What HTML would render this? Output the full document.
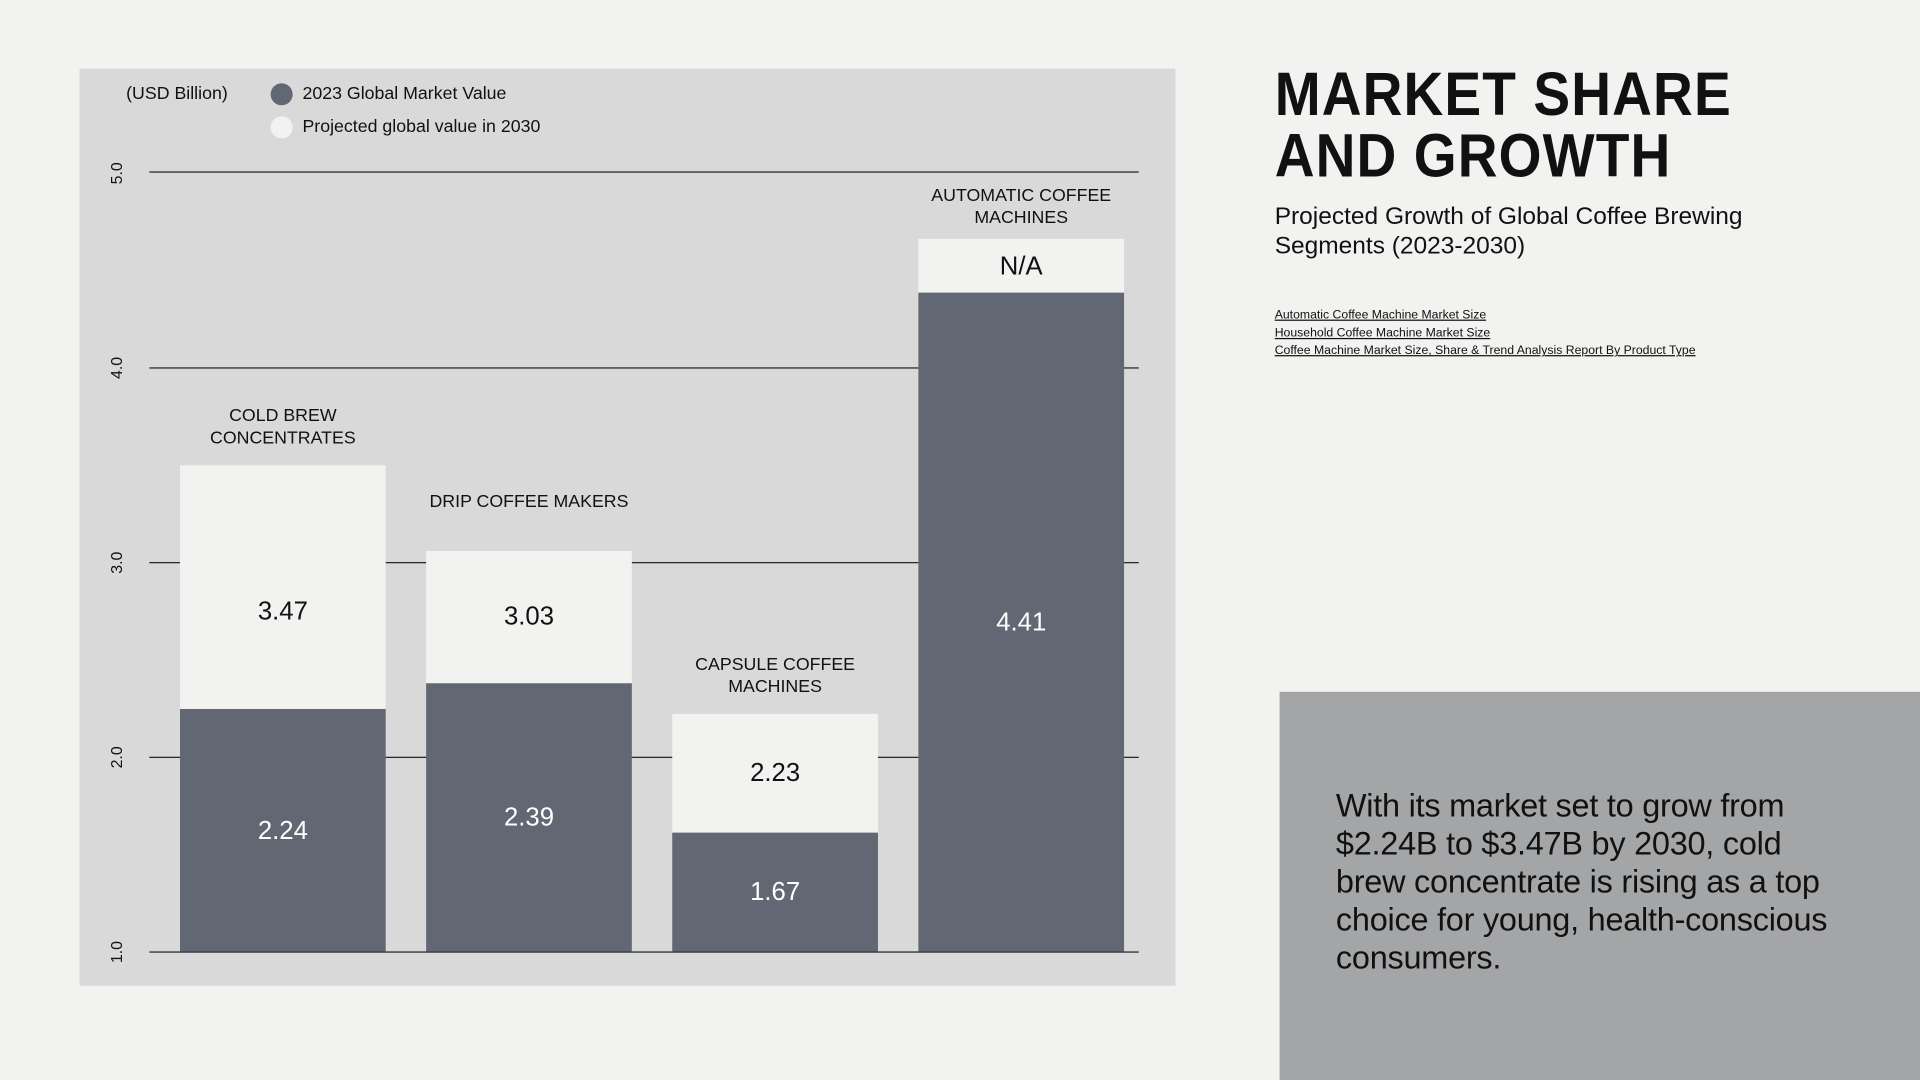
<!DOCTYPE html>
<html><head><meta charset="utf-8"><style>
html,body{margin:0;padding:0;width:1920px;height:1080px;overflow:hidden;background:#f2f2f0;}
#w{position:absolute;left:0;top:0;width:1568px;height:882px;transform:scale(1.2244898);transform-origin:0 0;font-family:"Liberation Sans",sans-serif;color:#111;}
.a{position:absolute;}
.panel{left:65px;top:56px;width:895px;height:749px;background:#d9d9d9;}
.g{left:122px;width:808px;height:1px;background:#222;}
.yl{width:40px;text-align:center;font-size:13px;transform:rotate(-90deg);left:75px;}
.bar{width:168px;}
.d{background:#626873;}
.l{background:#f2f2f0;}
.v{width:168px;text-align:center;font-size:21px;}
.cat{width:200px;text-align:center;font-size:14.5px;line-height:18px;}
</style></head><body><div id="w">
<div class="a panel"></div>
<div class="a" style="left:103px;top:69px;font-size:14.5px">(USD Billion)</div>
<div class="a" style="left:221px;top:68px;width:18px;height:18px;border-radius:50%;background:#626873"></div>
<div class="a" style="left:247px;top:69px;font-size:14.5px">2023 Global Market Value</div>
<div class="a" style="left:221px;top:95px;width:18px;height:18px;border-radius:50%;background:#f2f2f0"></div>
<div class="a" style="left:247px;top:96px;font-size:14.5px">Projected global value in 2030</div>

<div class="a g" style="top:140px"></div>
<div class="a g" style="top:300px"></div>
<div class="a g" style="top:459px"></div>
<div class="a g" style="top:618px"></div>
<div class="a g" style="top:777px"></div>
<div class="a yl" style="top:134px">5.0</div>
<div class="a yl" style="top:293px">4.0</div>
<div class="a yl" style="top:452px">3.0</div>
<div class="a yl" style="top:611px">2.0</div>
<div class="a yl" style="top:770px">1.0</div>

<div class="a bar l" style="left:147px;top:380px;height:199px"></div>
<div class="a bar d" style="left:147px;top:579px;height:198px"></div>
<div class="a bar l" style="left:348px;top:450px;height:108px"></div>
<div class="a bar d" style="left:348px;top:558px;height:219px"></div>
<div class="a bar l" style="left:549px;top:583px;height:97px"></div>
<div class="a bar d" style="left:549px;top:680px;height:97px"></div>
<div class="a bar l" style="left:750px;top:195px;height:44px"></div>
<div class="a bar d" style="left:750px;top:239px;height:538px"></div>

<div class="a v" style="left:147px;top:488px">3.47</div>
<div class="a v" style="left:147px;top:667px;color:#fff">2.24</div>
<div class="a v" style="left:348px;top:492px">3.03</div>
<div class="a v" style="left:348px;top:656px;color:#fff">2.39</div>
<div class="a v" style="left:549px;top:620px">2.23</div>
<div class="a v" style="left:549px;top:717px;color:#fff">1.67</div>
<div class="a v" style="left:750px;top:206px">N/A</div>
<div class="a v" style="left:750px;top:497px;color:#fff">4.41</div>

<div class="a cat" style="left:131px;top:331px">COLD BREW<br>CONCENTRATES</div>
<div class="a cat" style="left:332px;top:401px">DRIP COFFEE MAKERS</div>
<div class="a cat" style="left:533px;top:534px">CAPSULE COFFEE<br>MACHINES</div>
<div class="a cat" style="left:734px;top:151px">AUTOMATIC COFFEE<br>MACHINES</div>

<div class="a" style="left:1041px;top:52px;font-size:50px;font-weight:bold;line-height:50px;letter-spacing:1px;transform:scaleX(0.9);transform-origin:0 0">MARKET SHARE<br>AND GROWTH</div>
<div class="a" style="left:1041px;top:165px;font-size:20px;line-height:24px">Projected Growth of Global Coffee Brewing<br>Segments (2023-2030)</div>
<div class="a" style="left:1041px;top:251px;font-size:10px;line-height:14.7px;text-decoration:underline">Automatic Coffee Machine Market Size<br>Household Coffee Machine Market Size<br>Coffee Machine Market Size, Share &amp; Trend Analysis Report By Product Type</div>

<div class="a" style="left:1045px;top:565px;width:523px;height:317px;background:#a4a5a7"></div>
<div class="a" style="left:1091px;top:643px;width:410px;font-size:26.5px;line-height:31px;letter-spacing:-0.2px">With its market set to grow from $2.24B to $3.47B by 2030, cold brew concentrate is rising as a top choice for young, health-conscious consumers.</div>
</div></body></html>
